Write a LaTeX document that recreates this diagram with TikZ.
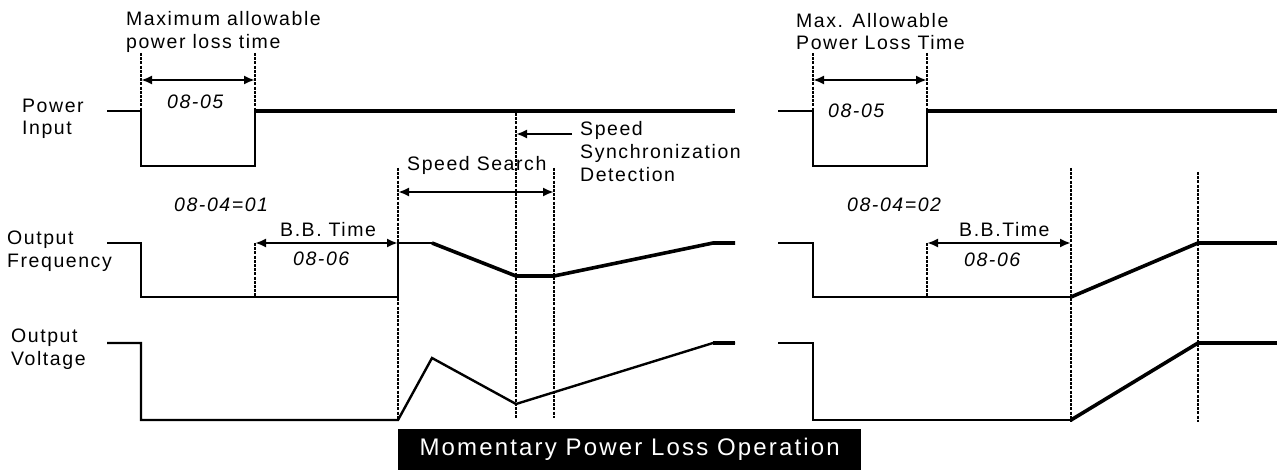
\documentclass[tikz,border=0pt]{standalone}
\usepackage{fontspec}
\setmainfont[LetterSpace=8]{Liberation Sans}
\newfontfamily\bannerfont[LetterSpace=9]{Liberation Sans}
\usetikzlibrary{arrows.meta}
\begin{document}
\begin{tikzpicture}[x=1pt,y=-1pt,
  wave/.style={line width=2.4pt,line join=miter},
  wavethick/.style={line width=3.6pt,line join=miter},
  guide/.style={line width=1.6pt,dash pattern=on 3pt off 1.2pt},
  dimarrow/.style={line width=2.2pt,{Latex[length=11pt,width=9pt]}-{Latex[length=11pt,width=9pt]}},
  onearrow/.style={line width=2.2pt,-{Latex[length=11pt,width=9pt]}},
  lbl/.style={anchor=base west,inner sep=0pt,font=\fontsize{19.5}{22}\selectfont},
  ital/.style={anchor=base west,inner sep=0pt,font=\fontsize{19.5}{22}\selectfont\itshape},
]
\useasboundingbox (0,0) rectangle (1277,470);

% row labels
\node[lbl] (pi1) at (22,113) {Power};
\node[lbl] (pi2) at (22,135) {Input};
\node[lbl] (of1) at (7,245) {Output};
\node[lbl] (of2) at (7,268) {Frequency};
\node[lbl] (ov1) at (11,342) {Output};
\node[lbl] (ov2) at (11,365) {Voltage};

% ---------- left diagram ----------
\draw[wave] (107,111) -- (141,111) -- (141,166) -- (255,166) -- (255,111);
\draw[wavethick] (255,111) -- (735,111);
\draw[wave] (107,243) -- (141,243) -- (141,297) -- (398,297) -- (398,243) -- (432,243);
\draw[wavethick] (432,243) -- (516,276) -- (554,276) -- (713,243) -- (735,243);
\draw[wave] (107,343) -- (141,343) -- (141,420) -- (398,420) -- (432,358) -- (516,404) -- (713,343) -- (735,343);
\draw[wavethick] (713,343) -- (735,343);

% guides
\coordinate (a1t) at (141,53); \coordinate (a1b) at (141,111);
\coordinate (a2t) at (255,53); \coordinate (a2b) at (255,111);
\draw[guide] (a1t) -- (a1b);
\draw[guide] (a2t) -- (a2b);
\coordinate (bb1t) at (255,243); \coordinate (bb1b) at (255,297);
\draw[guide] (bb1t) -- (bb1b);
\coordinate (ss1t) at (398,168); \coordinate (ss1b) at (398,420);
\coordinate (ss2t) at (554,168); \coordinate (ss2b) at (554,418);
\coordinate (syt) at (516,113); \coordinate (syb) at (516,418);
\draw[guide] (ss1t) -- (ss1b);
\draw[guide] (ss2t) -- (ss2b);
\draw[guide] (syt) -- (syb);

% dimension arrows
\coordinate (d1a) at (141,80); \coordinate (d1b) at (255,80);
\draw[dimarrow] (d1a) -- (d1b);
\coordinate (ssa) at (398,192); \coordinate (ssb) at (554,192);
\draw[dimarrow] (ssa) -- (ssb);
\coordinate (bba) at (255,243); \coordinate (bbb) at (398,243);
\draw[dimarrow] (bba) -- (bbb);
\coordinate (sya) at (572,134); \coordinate (syc) at (516,134);
\draw[onearrow] (sya) -- (syc);

% texts
\node[lbl] (mx1) at (126,26) {Maximum allowable};
\node[lbl] (mx2) at (126,49) {power loss time};
\node[ital] (t0805a) at (167,109) {08-05};
\node[lbl] (ss) at (407,171) {Speed Search};
\node[lbl] (sy1) at (580,136) {Speed};
\node[lbl] (sy2) at (580,159) {Synchronization};
\node[lbl] (sy3) at (580,182) {Detection};
\node[ital] (p01) at (174,212) {08-04=01};
\node[lbl] (bbt1) at (280,237) {B.B. Time};
\node[ital] (t0806a) at (293,266) {08-06};

% ---------- right diagram ----------
\draw[wave] (778,111) -- (813,111) -- (813,166) -- (927,166) -- (927,111);
\draw[wavethick] (927,111) -- (1277,111);
\draw[wave] (778,243) -- (813,243) -- (813,297) -- (1071,297);
\draw[wavethick] (1071,297) -- (1198,243) -- (1277,243);
\draw[wave] (778,343) -- (813,343) -- (813,420) -- (1071,420);
\draw[wavethick] (1071,420) -- (1198,343) -- (1277,343);

\coordinate (r1t) at (813,53); \coordinate (r1b) at (813,111);
\coordinate (r2t) at (927,53); \coordinate (r2b) at (927,111);
\draw[guide] (r1t) -- (r1b);
\draw[guide] (r2t) -- (r2b);
\coordinate (bb2t) at (927,243); \coordinate (bb2b) at (927,297);
\draw[guide] (bb2t) -- (bb2b);
\coordinate (rv1t) at (1071,168); \coordinate (rv1b) at (1071,422);
\coordinate (rv2t) at (1198,172); \coordinate (rv2b) at (1198,422);
\draw[guide] (rv1t) -- (rv1b);
\draw[guide] (rv2t) -- (rv2b);

\coordinate (d2a) at (813,80); \coordinate (d2b) at (927,80);
\draw[dimarrow] (d2a) -- (d2b);
\coordinate (bb2a) at (927,243); \coordinate (bb2c) at (1071,243);
\draw[dimarrow] (bb2a) -- (bb2c);

\node[lbl] (ma1) at (796,28) {Max. Allowable};
\node[lbl] (ma2) at (796,50) {Power Loss Time};
\node[ital] (t0805b) at (828,118) {08-05};
\node[ital] (p02) at (847,212) {08-04=02};
\node[lbl] (bbt2) at (959,237) {B.B.Time};
\node[ital] (t0806b) at (964,267) {08-06};

% banner
\node[fill=black,text=white,anchor=north west,minimum width=463pt,minimum height=41pt,inner sep=0pt,
      font=\bannerfont\fontsize{24}{27}\selectfont] (banner) at (398,429) {Momentary Power Loss Operation};
\end{tikzpicture}
\end{document}
